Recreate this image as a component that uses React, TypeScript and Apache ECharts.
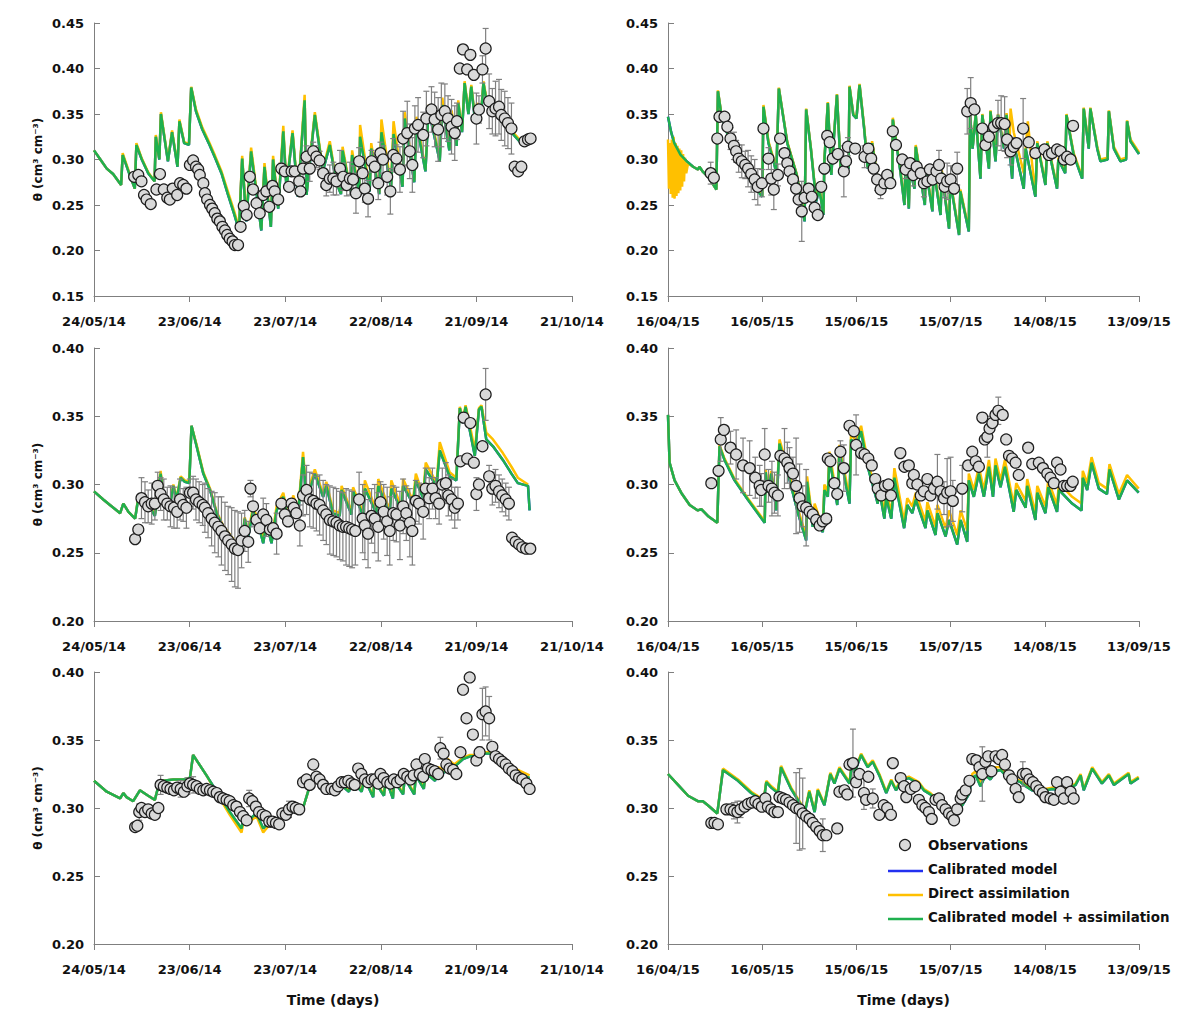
import React, { useEffect, useRef } from "react";
import * as echarts from "echarts";

const FONT = "'DejaVu Sans', 'Liberation Sans', sans-serif";

const labels2014 = ["24/05/14", "23/06/14", "23/07/14", "22/08/14", "21/09/14", "21/10/14"];
const labels2015 = ["16/04/15", "16/05/15", "15/06/15", "15/07/15", "14/08/15", "13/09/15"];
const yTitle = "θ (cm³ cm⁻³)";
const xTitle = "Time (days)";
const legendNames = ["Observations", "Calibrated model", "Direct assimilation", "Calibrated model + assimilation"];

// ---------- Panel 1 (2014, top) ----------
const p1Combined = [[0,0.310],[2,0.300],[4,0.290],[6,0.284],[8.5,0.272],[9,0.305],[11,0.285],[12.8,0.268],[13.3,0.316],[15,0.300],[17,0.285],[19,0.276],[19.4,0.325],[20.5,0.300],[21,0.350],[23.2,0.298],[24.5,0.330],[26.2,0.292],[26.8,0.342],[28.3,0.318],[29.8,0.316],[30.5,0.379],[32,0.353],[34,0.333],[36,0.318],[38,0.302],[40,0.285],[42,0.262],[44,0.240],[45.5,0.222],[46.5,0.301],[47.8,0.232],[49.3,0.309],[52.5,0.222],[53.5,0.292],[55.5,0.226],[56.2,0.300],[57.8,0.246],[59.4,0.331],[60.4,0.268],[62.3,0.329],[64,0.259],[66.1,0.365],[66.7,0.261],[69.3,0.349],[71.8,0.287],[74,0.316],[76,0.275],[77.5,0.262],[78,0.310],[80.5,0.265],[81,0.305],[83.2,0.262],[83.5,0.325],[86.5,0.265],[87,0.312],[89.5,0.262],[90.2,0.330],[93.2,0.268],[94,0.328],[96.8,0.270],[97.5,0.345],[100.5,0.275],[101.2,0.340],[104,0.287],[105,0.355],[108.5,0.298],[109.3,0.360],[111.5,0.310],[112.2,0.350],[113.8,0.315],[114.3,0.362],[115.5,0.330],[116.3,0.384],[117.5,0.350],[118.4,0.380],[119.5,0.345],[120.2,0.360],[121.5,0.350],[122.2,0.384],[123.3,0.362],[126,0.349],[129,0.338],[132,0.326],[134.8,0.315]];
const p1Direct = [[0,0.310],[2,0.300],[4,0.290],[6,0.284],[8.5,0.272],[9,0.307],[11,0.286],[12.8,0.268],[13.3,0.318],[15,0.301],[17,0.286],[19,0.276],[19.4,0.327],[20.5,0.301],[21,0.352],[23.2,0.299],[24.5,0.332],[26.2,0.293],[26.8,0.344],[28.3,0.319],[29.8,0.317],[30.5,0.380],[32,0.355],[34,0.335],[36,0.320],[38,0.304],[40,0.287],[42,0.265],[44,0.243],[45.5,0.225],[46.5,0.304],[47.8,0.235],[49.3,0.313],[52.5,0.224],[53.5,0.296],[55.5,0.228],[56.2,0.304],[57.8,0.248],[59.4,0.337],[60.4,0.270],[62.3,0.332],[64,0.261],[66.1,0.371],[66.7,0.263],[69.3,0.352],[71.8,0.289],[74,0.320],[76,0.276],[77.5,0.263],[78,0.314],[80.5,0.266],[81,0.310],[83.2,0.263],[83.5,0.338],[86.5,0.266],[87,0.318],[89.5,0.263],[90.2,0.344],[93.2,0.270],[94,0.342],[96.8,0.272],[97.5,0.352],[100.5,0.277],[101.2,0.347],[104,0.289],[105,0.360],[108.5,0.300],[109.3,0.368],[111.5,0.312],[112.2,0.354],[113.8,0.317],[114.3,0.365],[115.5,0.332],[116.3,0.386],[117.5,0.352],[118.4,0.382],[119.5,0.347],[120.2,0.362],[121.5,0.352],[122.2,0.386],[123.3,0.364],[126,0.351],[129,0.340],[132,0.328],[134.8,0.317]];
const p1Calibrated = p1Combined;
// [day, value, error half-width]
const p1Obs = [[12.6,0.281,0],[13.9,0.283,0],[14.9,0.276,0],[15.7,0.261,0],[16.5,0.256,0],[17.8,0.251,0],[19.6,0.267,0],[20.7,0.284,0],[21.9,0.267,0],[23.0,0.258,0],[23.8,0.256,0],[24.7,0.268,0],[26.1,0.261,0],[27.0,0.274,0],[28.0,0.272,0],[29.0,0.268,0],[30.1,0.294,0],[31.1,0.299,0],[32.0,0.292,0],[32.7,0.289,0],[33.2,0.283,0],[34.3,0.274,0],[34.8,0.263,0],[35.5,0.256,0],[36.4,0.250,0],[37.1,0.246,0],[37.9,0.241,0],[38.7,0.235,0],[39.5,0.232,0],[40.3,0.226,0],[41.1,0.222,0],[41.8,0.217,0],[42.6,0.213,0],[43.5,0.210,0],[44.2,0.206,0],[45.2,0.206,0],[46.0,0.226,0],[47.0,0.249,0],[47.9,0.239,0],[48.9,0.281,0.006],[49.9,0.267,0],[51.0,0.252,0],[52.0,0.241,0],[53.1,0.261,0],[54.1,0.265,0.006],[55.0,0.248,0],[56.0,0.271,0],[56.7,0.265,0],[57.8,0.256,0],[58.8,0.290,0.006],[59.9,0.287,0],[61.2,0.270,0],[62.0,0.287,0],[63.0,0.287,0],[64.4,0.276,0],[64.8,0.265,0],[65.6,0.290,0.010],[66.7,0.303,0.012],[67.7,0.290,0.014],[68.8,0.309,0.010],[69.8,0.303,0.012],[70.8,0.299,0.010],[71.9,0.285,0.015],[72.9,0.272,0.012],[74.0,0.279,0.015],[75.1,0.279,0.018],[76.1,0.276,0.015],[77.2,0.290,0.020],[78.2,0.281,0.015],[79.3,0.272,0.012],[80.3,0.279,0.018],[81.3,0.278,0.015],[82.2,0.263,0.022],[83.2,0.298,0.015],[84.3,0.285,0.018],[85.0,0.268,0.015],[86.0,0.257,0.020],[87.1,0.298,0.012],[88.1,0.292,0.015],[89.2,0.274,0.018],[89.9,0.307,0.012],[90.7,0.300,0.015],[92.0,0.281,0.020],[93.0,0.265,0.025],[93.9,0.305,0.018],[94.9,0.301,0.015],[96.0,0.289,0.025],[97.0,0.323,0.030],[98.3,0.329,0.035],[99.1,0.309,0.030],[99.9,0.294,0.030],[100.7,0.334,0.025],[101.7,0.338,0.030],[103.3,0.327,0.025],[104.3,0.345,0.030],[105.9,0.355,0.025],[106.9,0.344,0.030],[108.0,0.333,0.035],[109.0,0.349,0.035],[110.1,0.353,0.030],[111.1,0.345,0.025],[112.2,0.336,0.030],[113.2,0.329,0.030],[113.9,0.342,0.020],[114.8,0.400,0],[115.8,0.421,0],[117.1,0.399,0],[118.1,0.415,0],[119.2,0.393,0],[120.0,0.345,0.028],[120.8,0.355,0.015],[121.9,0.399,0.015],[122.9,0.422,0.022],[124.0,0.364,0.030],[125.0,0.353,0.025],[126.0,0.356,0.030],[127.1,0.358,0.030],[127.8,0.349,0.028],[128.9,0.345,0.030],[129.9,0.340,0.028],[131.0,0.334,0.028],[132.0,0.292,0],[133.1,0.287,0],[134.1,0.292,0],[135.1,0.320,0],[136.2,0.322,0],[137.0,0.323,0]];

// ---------- Panel 2 (2015, top) ----------
const p2Combined = [[0,0.347],[1,0.330],[2,0.318],[4,0.305],[6,0.298],[8,0.292],[9.5,0.289],[10,0.292],[11,0.287],[13,0.280],[15.4,0.267],[15.9,0.375],[17,0.349],[20,0.316],[24,0.290],[27,0.272],[30,0.259],[30.4,0.358],[32,0.318],[33.5,0.300],[34.5,0.285],[35.3,0.378],[38,0.318],[41,0.283],[43.5,0.232],[44,0.355],[45.5,0.312],[47.2,0.254],[48.2,0.268],[49.5,0.239],[49.8,0.298],[50.9,0.362],[52,0.283],[53.8,0.371],[55,0.290],[57.5,0.290],[57.8,0.380],[59,0.349],[60,0.345],[61,0.382],[62.5,0.333],[63.6,0.290],[65,0.318],[66.8,0.276],[68.5,0.268],[71.4,0.270],[71.6,0.344],[74,0.287],[75.3,0.250],[75.7,0.300],[76.7,0.246],[77.0,0.290],[78.5,0.268],[78.9,0.314],[81.8,0.250],[82.1,0.290],[84.2,0.243],[84.6,0.290],[86.8,0.239],[87.2,0.286],[89.5,0.224],[89.9,0.276],[92.7,0.217],[93.1,0.265],[95.8,0.221],[96.2,0.349],[97,0.312],[98,0.349],[99.5,0.279],[100.1,0.349],[102.2,0.290],[102.7,0.353],[104.3,0.298],[105.1,0.349],[107,0.312],[107.8,0.349],[109.6,0.279],[110.1,0.318],[113.3,0.268],[113.9,0.312],[117,0.259],[117.6,0.318],[120.2,0.272],[120.8,0.318],[123.9,0.268],[124.3,0.300],[126.5,0.285],[126.9,0.349],[129.2,0.305],[131.9,0.279],[132.4,0.356],[134,0.312],[134.5,0.356],[136.7,0.312],[137.7,0.298],[140,0.300],[140.4,0.353],[142,0.312],[144.1,0.298],[145.9,0.300],[146.2,0.342],[147.3,0.320],[149.4,0.309],[150,0.306]];
const p2Direct = [[0,0.322],[0.3,0.268],[0.6,0.318],[0.9,0.262],[1.2,0.322],[1.5,0.258],[1.8,0.325],[2.1,0.257],[2.4,0.318],[2.7,0.260],[3.0,0.315],[3.3,0.263],[3.6,0.312],[3.9,0.266],[4.2,0.310],[4.5,0.270],[4.8,0.306],[5.1,0.276],[5.4,0.302],[5.8,0.285],[6.4,0.296],[8,0.292],[9.5,0.289],[10,0.292],[11,0.287],[13,0.280],[15.4,0.267],[15.9,0.376],[17,0.350],[20,0.317],[24,0.291],[27,0.273],[30,0.260],[30.4,0.360],[32,0.320],[33.5,0.302],[34.5,0.287],[35.3,0.379],[38,0.319],[41,0.284],[43.5,0.236],[44,0.356],[45.5,0.313],[47.2,0.256],[48.2,0.270],[49.5,0.241],[49.8,0.300],[50.9,0.363],[52,0.285],[53.8,0.372],[55,0.292],[57.5,0.292],[57.8,0.381],[59,0.350],[60,0.346],[61,0.383],[62.5,0.335],[63.6,0.292],[65,0.320],[66.8,0.278],[68.5,0.270],[71.4,0.272],[71.6,0.346],[74,0.289],[75.3,0.252],[75.7,0.301],[76.7,0.248],[77.0,0.292],[78.5,0.270],[78.9,0.316],[81.8,0.252],[82.1,0.292],[84.2,0.245],[84.6,0.292],[86.8,0.241],[87.2,0.288],[89.5,0.226],[89.9,0.278],[92.7,0.219],[93.1,0.267],[95.8,0.223],[96.2,0.350],[97,0.313],[98,0.350],[99.5,0.281],[100.1,0.350],[102.2,0.292],[102.7,0.354],[104.3,0.300],[105.1,0.350],[107,0.314],[107.8,0.351],[108.8,0.320],[109.1,0.356],[110.1,0.330],[113.3,0.285],[114.6,0.342],[115.5,0.310],[117,0.262],[117.6,0.320],[120.2,0.274],[120.8,0.320],[123.9,0.270],[124.3,0.302],[126.5,0.287],[126.9,0.350],[129.2,0.307],[131.9,0.281],[132.4,0.357],[134,0.314],[134.5,0.357],[136.7,0.314],[137.7,0.300],[140,0.302],[140.4,0.354],[142,0.314],[144.1,0.300],[145.9,0.302],[146.2,0.343],[147.3,0.322],[149.4,0.311],[150,0.308]];
const p2Calibrated = p2Combined;
const p2Obs = [[13.6,0.285,0.012],[14.6,0.280,0],[15.7,0.323,0],[16.4,0.347,0],[18.0,0.347,0],[18.9,0.336,0],[19.9,0.323,0.012],[21.0,0.315,0.015],[21.7,0.309,0.012],[22.5,0.301,0.015],[23.5,0.298,0.018],[24.6,0.294,0.015],[25.5,0.290,0.020],[26.5,0.284,0.020],[27.6,0.278,0.022],[28.6,0.270,0.020],[29.9,0.274,0.015],[30.4,0.334,0],[32.0,0.301,0.012],[32.9,0.279,0.018],[33.7,0.267,0.022],[35.0,0.283,0.012],[35.7,0.323,0],[37.1,0.307,0],[38.0,0.296,0.010],[38.7,0.287,0],[39.8,0.278,0],[40.8,0.268,0],[41.6,0.256,0],[42.6,0.243,0.033],[43.5,0.258,0],[44.8,0.268,0],[45.8,0.259,0],[46.7,0.247,0],[47.7,0.239,0],[48.8,0.270,0],[49.8,0.290,0],[50.7,0.326,0],[51.5,0.319,0],[52.5,0.301,0],[54.1,0.306,0],[56.0,0.287,0.028],[56.7,0.298,0],[57.3,0.314,0.010],[59.6,0.312,0],[62.6,0.303,0.012],[63.8,0.312,0],[64.7,0.301,0.010],[65.5,0.290,0],[66.6,0.278,0.012],[67.7,0.267,0.010],[68.9,0.274,0],[69.8,0.283,0],[70.8,0.274,0],[71.6,0.331,0],[72.6,0.316,0],[74.6,0.300,0],[75.7,0.289,0.010],[77.1,0.296,0],[78.1,0.283,0.012],[79.2,0.292,0],[80.5,0.285,0],[81.5,0.274,0.015],[82.6,0.276,0],[83.4,0.289,0],[84.3,0.278,0],[85.5,0.287,0],[86.3,0.294,0.016],[87.0,0.279,0],[88.1,0.270,0.012],[88.9,0.276,0.020],[90.0,0.278,0.015],[91.1,0.268,0],[92.1,0.290,0.018],[95.3,0.353,0.025],[96.4,0.362,0.028],[97.6,0.355,0],[100.1,0.334,0],[101.1,0.316,0],[102.2,0.325,0],[103.8,0.336,0],[105.1,0.340,0.025],[106.1,0.340,0.030],[107.2,0.339,0.030],[108.0,0.322,0.020],[109.1,0.309,0.015],[110.1,0.314,0.010],[111.0,0.318,0],[113.1,0.334,0.033],[114.9,0.319,0],[117.0,0.307,0],[119.9,0.311,0],[121.3,0.305,0],[122.3,0.307,0],[123.9,0.311,0],[125.0,0.309,0],[126.1,0.300,0],[127.1,0.303,0],[128.2,0.300,0],[129.0,0.337,0]];

// ---------- Panel 3 (2014, middle) ----------
const p3Combined = [[0,0.295],[2.9,0.289],[5,0.285],[8.2,0.279],[9.2,0.286],[10.8,0.280],[12.9,0.275],[13.9,0.290],[15.5,0.284],[17,0.286],[19.1,0.277],[20.9,0.308],[21.9,0.289],[23.8,0.284],[24.9,0.299],[25.9,0.289],[27.2,0.305],[28.5,0.302],[29.9,0.301],[30.6,0.343],[32.2,0.328],[34.3,0.308],[36.4,0.296],[38.5,0.279],[40.5,0.269],[43.7,0.259],[46.3,0.253],[47.3,0.275],[48.4,0.262],[49.9,0.281],[52,0.267],[53.1,0.257],[54.1,0.272],[55.7,0.257],[57.3,0.281],[59.4,0.291],[61.4,0.269],[62.5,0.289],[64.1,0.279],[65.6,0.320],[66.7,0.289],[69.3,0.308],[71.9,0.291],[72.9,0.299],[75,0.279],[77.1,0.277],[77.7,0.296],[80.8,0.278],[81.3,0.295],[84.5,0.277],[85,0.297],[88.6,0.279],[89.2,0.299],[92.8,0.279],[93.3,0.297],[96.5,0.281],[97,0.299],[100.1,0.286],[101,0.303],[103.3,0.290],[104.1,0.311],[107.5,0.299],[108.5,0.325],[111.6,0.306],[113.7,0.303],[114.8,0.356],[115.8,0.345],[116.6,0.357],[117.9,0.340],[119.5,0.321],[120.8,0.355],[121.6,0.357],[123.1,0.333],[125.2,0.328],[128.3,0.318],[131,0.308],[133,0.301],[136.2,0.299],[136.7,0.281]];
const p3Direct = [[0,0.295],[2.9,0.289],[5,0.285],[8.2,0.279],[9.2,0.286],[10.8,0.280],[12.9,0.275],[13.9,0.291],[15.5,0.285],[17,0.287],[19.1,0.278],[20.9,0.310],[21.9,0.290],[23.8,0.285],[24.9,0.300],[25.9,0.290],[27.2,0.306],[28.5,0.303],[29.9,0.302],[30.6,0.343],[32.2,0.329],[34.3,0.309],[36.4,0.297],[38.5,0.280],[40.5,0.270],[43.7,0.260],[46.3,0.254],[47.3,0.276],[48.4,0.264],[49.9,0.284],[52,0.270],[53.1,0.260],[54.1,0.275],[55.7,0.259],[57.3,0.284],[59.4,0.294],[61.4,0.271],[62.5,0.292],[64.1,0.281],[65.6,0.324],[66.7,0.292],[69.3,0.311],[71.9,0.293],[72.9,0.302],[75,0.281],[77.1,0.279],[77.7,0.299],[80.8,0.280],[81.3,0.298],[84.5,0.279],[85,0.303],[88.6,0.281],[89.2,0.304],[92.8,0.281],[93.3,0.303],[96.5,0.283],[97,0.304],[100.1,0.288],[101,0.308],[103.3,0.292],[104.1,0.316],[107.5,0.301],[108.5,0.331],[111.6,0.309],[113.7,0.305],[114.8,0.357],[115.8,0.348],[116.6,0.358],[117.9,0.344],[119.5,0.325],[120.8,0.356],[121.6,0.358],[123.1,0.338],[125.2,0.333],[128.3,0.323],[131,0.313],[133,0.305],[136.2,0.300]];
const p3Calibrated = p3Combined;
const p3Obs = [[12.9,0.260,0],[13.9,0.267,0],[14.9,0.290,0.015],[16.0,0.287,0.015],[17.0,0.284,0.012],[18.1,0.286,0.015],[19.1,0.286,0.012],[20.0,0.299,0.010],[20.9,0.293,0.012],[21.9,0.289,0.015],[23.0,0.286,0.012],[24.0,0.284,0.015],[25.1,0.283,0.015],[26.1,0.280,0.012],[27.0,0.289,0.015],[28.0,0.285,0.012],[29.0,0.283,0.015],[30.1,0.294,0.010],[31.1,0.294,0.012],[32.0,0.289,0.015],[33.0,0.287,0.015],[34.1,0.285,0.015],[34.8,0.283,0.018],[35.8,0.279,0.018],[36.9,0.275,0.020],[37.9,0.272,0.022],[39.0,0.269,0.022],[40.0,0.266,0.025],[41.1,0.262,0.025],[42.1,0.259,0.025],[43.2,0.256,0.027],[44.2,0.253,0.028],[45.2,0.252,0.028],[46.3,0.259,0.020],[47.3,0.266,0.015],[48.4,0.258,0.015],[49.1,0.297,0.006],[49.9,0.284,0.015],[51.0,0.274,0],[52.0,0.268,0],[53.1,0.278,0.012],[54.1,0.274,0.012],[55.2,0.267,0],[56.2,0.268,0],[57.3,0.264,0.015],[58.8,0.286,0],[59.9,0.278,0],[60.9,0.273,0],[62.0,0.286,0],[62.7,0.283,0],[63.5,0.279,0],[64.6,0.270,0.015],[65.6,0.292,0.015],[66.7,0.296,0.018],[67.7,0.289,0.020],[68.8,0.288,0.020],[69.8,0.286,0.020],[70.8,0.285,0.022],[71.9,0.281,0.022],[72.9,0.278,0.022],[74.0,0.274,0.025],[75.1,0.273,0.025],[76.1,0.272,0.025],[77.1,0.270,0.025],[78.1,0.269,0.025],[79.1,0.269,0.028],[80.1,0.268,0.028],[81.0,0.267,0.028],[82.0,0.266,0.025],[83.2,0.289,0.020],[84.3,0.275,0.025],[85.0,0.270,0.025],[86.0,0.264,0.025],[87.1,0.277,0.020],[88.1,0.275,0.025],[89.2,0.269,0.025],[89.9,0.287,0.015],[90.9,0.280,0.020],[92.0,0.273,0.025],[92.8,0.266,0.025],[93.9,0.279,0.020],[94.9,0.278,0.020],[96.0,0.270,0.025],[97.0,0.284,0.020],[98.0,0.279,0.020],[99.1,0.272,0.025],[99.9,0.266,0.025],[101.0,0.288,0.015],[102.0,0.286,0.015],[103.3,0.280,0.020],[104.1,0.297,0.015],[105.2,0.290,0.015],[106.2,0.297,0.015],[107.2,0.290,0.015],[108.3,0.286,0.015],[109.3,0.300,0.012],[110.4,0.301,0.015],[111.2,0.292,0.015],[112.2,0.289,0.015],[113.2,0.283,0.015],[114.2,0.286,0.012],[115.0,0.317,0],[116.0,0.349,0],[117.1,0.319,0],[118.1,0.345,0],[119.2,0.316,0],[120.0,0.293,0.012],[120.8,0.300,0],[121.9,0.328,0],[122.9,0.366,0.019],[124.0,0.306,0.008],[125.0,0.297,0.012],[126.0,0.299,0.012],[127.1,0.295,0.012],[128.1,0.292,0.012],[129.2,0.289,0.012],[130.2,0.286,0.012],[131.2,0.261,0],[132.3,0.258,0],[133.4,0.256,0],[134.4,0.254,0],[135.6,0.253,0],[136.9,0.253,0]];

// ---------- Panel 4 (2015, middle) ----------
const p4Combined = [[0,0.351],[0.5,0.316],[2.1,0.303],[4.2,0.294],[6.9,0.285],[9.5,0.281],[10.6,0.282],[12.7,0.277],[15.7,0.272],[16.4,0.328],[18,0.318],[21.2,0.303],[25.4,0.289],[30.8,0.272],[31.1,0.309],[31.8,0.294],[32.9,0.308],[34.5,0.281],[35.5,0.330],[38.2,0.308],[41.4,0.279],[44,0.259],[44.3,0.302],[46.1,0.269],[46.7,0.282],[49.3,0.265],[49.8,0.296],[50.9,0.291],[51.4,0.320],[53.9,0.285],[54.6,0.325],[57.8,0.286],[58.3,0.333],[59.9,0.328],[61.5,0.339],[63.6,0.313],[66.8,0.286],[67,0.300],[68.9,0.275],[69.5,0.291],[71.1,0.275],[72.1,0.305],[75.2,0.268],[76.2,0.285],[77.8,0.279],[78.9,0.289],[82,0.268],[82.6,0.281],[85.2,0.263],[85.8,0.279],[88.4,0.262],[89.5,0.274],[92.1,0.256],[93.2,0.274],[95.3,0.258],[95.8,0.303],[97.4,0.291],[99,0.308],[100.6,0.291],[102.2,0.313],[103.5,0.291],[104.3,0.314],[105.9,0.298],[107.3,0.313],[110.1,0.280],[110.9,0.296],[113.9,0.283],[114.4,0.299],[117,0.274],[117.6,0.294],[120.2,0.279],[121.1,0.298],[123.9,0.280],[124.5,0.296],[128.7,0.286],[131.7,0.281],[132.1,0.305],[133.5,0.296],[134.9,0.316],[137.2,0.297],[139.8,0.293],[140.6,0.311],[143.6,0.289],[146.2,0.303],[149.9,0.294]];
const p4Direct = [[0,0.351],[0.5,0.316],[2.1,0.303],[4.2,0.294],[6.9,0.285],[9.5,0.281],[10.6,0.282],[12.7,0.277],[15.7,0.272],[16.4,0.329],[18,0.319],[21.2,0.304],[25.4,0.290],[30.8,0.273],[31.1,0.311],[31.8,0.296],[32.9,0.310],[34.5,0.283],[35.5,0.333],[38.2,0.311],[41.4,0.282],[44,0.262],[44.3,0.306],[46.1,0.272],[46.7,0.286],[49.3,0.268],[49.8,0.300],[50.9,0.295],[51.4,0.324],[53.9,0.289],[54.6,0.329],[57.8,0.290],[58.3,0.337],[59.9,0.332],[61.5,0.343],[63.6,0.317],[66.8,0.290],[67,0.304],[68.9,0.279],[69.5,0.295],[71.1,0.279],[72.1,0.312],[75.2,0.273],[76.2,0.290],[77.8,0.284],[78.9,0.294],[82,0.273],[82.6,0.287],[85.2,0.269],[85.8,0.285],[88.4,0.268],[89.5,0.281],[92.1,0.263],[93.2,0.281],[95.3,0.266],[95.8,0.308],[97.4,0.296],[99,0.313],[100.6,0.296],[102.2,0.318],[103.5,0.296],[104.3,0.319],[105.9,0.303],[107.3,0.318],[110.1,0.285],[110.9,0.301],[113.9,0.288],[114.4,0.304],[117,0.279],[117.6,0.299],[120.2,0.284],[121.1,0.303],[123.9,0.285],[124.5,0.301],[128.7,0.291],[131.7,0.286],[132.1,0.310],[133.5,0.301],[134.9,0.320],[137.2,0.301],[139.8,0.297],[140.6,0.315],[143.6,0.293],[146.2,0.307],[149.9,0.297]];
const p4Calibrated = p4Combined;
const p4Obs = [[13.8,0.301,0],[16.1,0.310,0],[16.8,0.333,0.016],[17.8,0.340,0],[19.9,0.327,0.012],[21.7,0.322,0.018],[23.9,0.314,0.020],[26.0,0.312,0.020],[27.8,0.305,0.015],[29.2,0.299,0.015],[29.7,0.296,0.012],[30.8,0.322,0.019],[32.0,0.299,0.012],[33.1,0.297,0.020],[33.9,0.294,0.015],[35.0,0.292,0.015],[35.8,0.321,0],[37.1,0.319,0.022],[38.0,0.316,0.015],[38.7,0.312,0.015],[39.8,0.308,0.012],[40.8,0.299,0.035],[41.9,0.290,0.025],[42.9,0.284,0.015],[44.0,0.283,0.028],[45.1,0.280,0],[46.1,0.278,0],[47.2,0.274,0],[48.3,0.270,0],[49.3,0.273,0],[50.4,0.275,0],[50.9,0.319,0],[51.7,0.317,0],[53.0,0.301,0],[53.9,0.293,0],[54.9,0.324,0.008],[56.0,0.312,0.017],[57.8,0.343,0],[59.2,0.339,0],[59.9,0.329,0.022],[61.5,0.323,0],[62.6,0.322,0],[63.8,0.319,0],[64.9,0.314,0],[66.0,0.304,0],[66.8,0.297,0],[67.9,0.292,0],[69.1,0.299,0],[70.2,0.300,0],[71.0,0.292,0],[74.0,0.323,0],[75.3,0.313,0],[76.7,0.314,0],[77.8,0.301,0],[78.3,0.307,0],[79.4,0.300,0],[80.5,0.292,0],[81.5,0.295,0],[82.6,0.304,0],[83.6,0.292,0],[84.7,0.297,0],[85.8,0.302,0.020],[86.8,0.295,0],[87.9,0.290,0.012],[88.9,0.294,0.025],[90.0,0.295,0.025],[90.7,0.288,0.015],[93.7,0.297,0.017],[95.6,0.314,0],[96.9,0.324,0],[98.0,0.317,0],[99.0,0.313,0],[100.1,0.349,0],[100.9,0.333,0],[101.7,0.335,0.015],[102.4,0.341,0],[103.3,0.345,0],[104.3,0.351,0],[105.2,0.354,0.010],[106.6,0.351,0],[107.7,0.333,0],[108.6,0.321,0],[109.6,0.319,0],[110.7,0.316,0],[111.7,0.307,0],[114.7,0.327,0],[116.0,0.315,0],[118.1,0.316,0],[119.4,0.312,0],[120.8,0.308,0],[121.8,0.305,0],[122.9,0.301,0],[123.9,0.316,0],[125.0,0.311,0],[126.1,0.299,0],[127.1,0.299,0],[128.2,0.299,0],[128.9,0.302,0]];

// ---------- Panel 5 (2014, bottom) ----------
const p5Combined = [[0,0.320],[4,0.312],[8.2,0.307],[9.2,0.311],[10.2,0.308],[12.3,0.305],[14.4,0.313],[17,0.309],[19.1,0.306],[20.2,0.316],[21.7,0.320],[24.9,0.321],[28,0.321],[30.1,0.322],[31.1,0.339],[35.3,0.324],[38.5,0.312],[42.6,0.297],[46.3,0.285],[47.3,0.297],[48.9,0.292],[51,0.296],[53.1,0.285],[55.2,0.290],[57.3,0.288],[58.8,0.297],[60.4,0.297],[62.5,0.304],[65.6,0.300],[67.7,0.316],[68.8,0.320],[70.8,0.320],[74,0.312],[76,0.310],[77,0.318],[80,0.312],[81,0.320],[84,0.312],[84.8,0.322],[87.6,0.308],[88,0.320],[91,0.309],[91.5,0.322],[93.8,0.307],[94.2,0.320],[97,0.310],[97.5,0.322],[100.5,0.310],[101,0.324],[103.5,0.314],[104,0.326],[107,0.320],[108,0.328],[110,0.326],[111,0.334],[113,0.330],[115.8,0.336],[118,0.338],[120,0.338],[122,0.340],[124.2,0.340],[127,0.335],[130,0.330],[133,0.326],[136.7,0.322]];
const p5Direct = [[0,0.320],[4,0.312],[8.2,0.307],[9.2,0.311],[10.2,0.308],[12.3,0.305],[14.4,0.313],[17,0.309],[19.1,0.306],[20.2,0.316],[21.7,0.320],[24.9,0.321],[28,0.321],[30.1,0.322],[31.1,0.339],[35.3,0.324],[38.5,0.311],[42.6,0.295],[46.3,0.282],[47.3,0.295],[48.9,0.290],[51,0.294],[53.1,0.282],[55.2,0.288],[57.3,0.286],[58.8,0.296],[60.4,0.296],[62.5,0.304],[65.6,0.300],[67.7,0.316],[68.8,0.321],[70.8,0.321],[74,0.313],[76,0.311],[77,0.319],[80,0.313],[81,0.321],[84,0.313],[84.8,0.323],[87.6,0.309],[88,0.321],[91,0.310],[91.5,0.323],[93.8,0.308],[94.2,0.321],[97,0.311],[97.5,0.323],[100.5,0.311],[101,0.325],[103.5,0.315],[104,0.327],[107,0.321],[108,0.330],[110,0.328],[111,0.336],[113,0.332],[115.8,0.337],[118,0.339],[120,0.339],[122,0.341],[124.2,0.341],[127,0.337],[130,0.332],[133,0.328],[136.7,0.324]];
const p5Calibrated = p5Combined;
const p5Obs = [[12.9,0.286,0],[13.6,0.287,0],[14.2,0.297,0.006],[14.9,0.300,0],[16.0,0.297,0],[17.0,0.299,0],[18.1,0.296,0],[19.1,0.295,0],[20.2,0.300,0],[20.9,0.317,0.007],[21.9,0.316,0],[23.0,0.315,0],[24.0,0.314,0],[25.1,0.313,0],[26.1,0.315,0],[27.2,0.314,0.006],[28.2,0.312,0],[29.3,0.316,0.006],[30.1,0.318,0],[31.1,0.317,0.006],[32.2,0.316,0],[33.2,0.314,0],[34.3,0.313,0],[35.3,0.314,0],[36.4,0.313,0],[37.4,0.312,0],[38.5,0.311,0],[39.5,0.308,0],[40.5,0.307,0],[41.6,0.306,0],[42.6,0.305,0],[43.7,0.302,0],[44.7,0.301,0],[45.8,0.297,0],[46.8,0.294,0],[47.9,0.291,0],[48.7,0.307,0.006],[49.7,0.305,0],[50.8,0.301,0],[51.8,0.297,0],[52.9,0.295,0],[53.9,0.294,0],[55.0,0.290,0],[56.0,0.290,0],[57.1,0.289,0],[58.1,0.288,0],[59.1,0.296,0],[60.2,0.295,0],[61.2,0.299,0.006],[62.3,0.301,0],[63.3,0.300,0],[64.4,0.299,0],[65.6,0.319,0],[66.7,0.321,0],[67.7,0.317,0],[68.8,0.332,0],[69.8,0.323,0],[70.8,0.321,0],[71.9,0.317,0],[72.9,0.314,0],[74.5,0.314,0],[75.6,0.313,0],[76.6,0.316,0],[77.7,0.319,0],[78.7,0.319,0],[79.8,0.320,0],[80.8,0.318,0],[81.8,0.317,0],[82.9,0.329,0],[83.9,0.325,0],[85.0,0.321,0],[86.0,0.319,0],[87.1,0.321,0],[88.1,0.321,0],[89.2,0.318,0],[89.9,0.325,0],[90.9,0.322,0],[92.0,0.319,0],[93.0,0.318,0],[94.1,0.321,0],[95.1,0.319,0],[96.2,0.321,0],[97.2,0.325,0],[98.3,0.323,0],[99.3,0.321,0],[100.3,0.324,0],[101.2,0.332,0],[102.2,0.325,0],[103.3,0.323,0],[103.8,0.336,0],[104.8,0.329,0],[105.9,0.328,0],[106.9,0.327,0],[108.0,0.325,0],[108.7,0.344,0.008],[109.7,0.340,0],[110.6,0.332,0],[111.6,0.329,0],[112.7,0.328,0],[113.7,0.325,0],[115.0,0.341,0],[115.8,0.387,0],[116.9,0.366,0],[117.9,0.396,0],[118.9,0.354,0],[120.0,0.335,0],[121.0,0.341,0.004],[121.9,0.369,0.019],[122.9,0.371,0.018],[124.0,0.366,0.016],[125.0,0.345,0],[126.0,0.338,0],[127.1,0.336,0],[128.1,0.334,0],[129.2,0.332,0],[130.2,0.329,0],[131.3,0.327,0],[132.3,0.324,0],[133.4,0.322,0],[134.4,0.321,0],[135.7,0.318,0],[136.7,0.314,0]];

// ---------- Panel 6 (2015, bottom) ----------
const p6Combined = [[0,0.325],[3.2,0.317],[6.4,0.309],[9.5,0.305],[11.1,0.305],[12.7,0.302],[15.7,0.296],[17.5,0.328],[22.3,0.320],[26.5,0.311],[30.5,0.305],[31.3,0.319],[32.9,0.315],[35,0.311],[36,0.330],[39.2,0.314],[42.4,0.302],[43.5,0.296],[45,0.312],[46.7,0.297],[47.7,0.313],[49.8,0.302],[51.7,0.325],[53,0.318],[54.6,0.329],[57.8,0.318],[58.5,0.331],[59.4,0.326],[61.5,0.339],[63.6,0.330],[65.2,0.334],[67.3,0.324],[69.5,0.311],[71.1,0.320],[72.6,0.313],[74.2,0.320],[76.7,0.322],[79.9,0.318],[81.5,0.313],[83.6,0.310],[85.8,0.305],[88.4,0.301],[90.5,0.297],[92.1,0.297],[93.7,0.302],[95.8,0.310],[96.9,0.322],[98,0.324],[99.5,0.316],[101.1,0.324],[102.7,0.321],[104.3,0.327],[105.9,0.328],[107.5,0.324],[110.1,0.321],[112.3,0.319],[113.9,0.316],[116,0.313],[118.1,0.312],[122.3,0.314],[126.6,0.313],[129.8,0.317],[131.4,0.324],[132.4,0.313],[135.1,0.329],[138.2,0.318],[140.4,0.324],[142,0.317],[146.7,0.325],[147.3,0.318],[149.9,0.322]];
const p6Direct = [[0,0.325],[3.2,0.317],[6.4,0.309],[9.5,0.305],[11.1,0.305],[12.7,0.302],[15.7,0.296],[17.5,0.329],[22.3,0.321],[26.5,0.312],[30.5,0.306],[31.3,0.320],[32.9,0.316],[35,0.312],[36,0.331],[39.2,0.315],[42.4,0.303],[43.5,0.297],[45,0.313],[46.7,0.298],[47.7,0.314],[49.8,0.303],[51.7,0.326],[53,0.319],[54.6,0.330],[57.8,0.319],[58.5,0.332],[59.4,0.327],[61.5,0.340],[63.6,0.331],[65.2,0.335],[67.3,0.325],[69.5,0.312],[71.1,0.321],[72.6,0.314],[74.2,0.321],[76.7,0.323],[79.9,0.319],[81.5,0.314],[83.6,0.311],[85.8,0.306],[88.4,0.302],[90.5,0.298],[92.1,0.298],[93.7,0.303],[95.8,0.312],[96.9,0.325],[98,0.327],[99.5,0.319],[101.1,0.327],[102.7,0.324],[104.3,0.330],[105.9,0.330],[107.5,0.326],[110.1,0.322],[112.3,0.320],[113.9,0.317],[116,0.314],[118.1,0.313],[122.3,0.315],[126.6,0.314],[129.8,0.318],[131.4,0.325],[132.4,0.314],[135.1,0.330],[138.2,0.319],[140.4,0.325],[142,0.318],[146.7,0.326],[147.3,0.319],[149.9,0.323]];
const p6Calibrated = p6Combined;
const p6Obs = [[13.8,0.289,0],[14.8,0.289,0],[15.9,0.288,0],[18.6,0.299,0],[19.9,0.299,0],[21.0,0.298,0.006],[22.1,0.297,0.008],[23.1,0.299,0.006],[24.4,0.301,0],[25.5,0.303,0],[26.7,0.304,0],[27.8,0.305,0],[28.8,0.303,0],[29.9,0.301,0],[31.0,0.307,0],[31.8,0.301,0],[32.9,0.299,0],[33.9,0.297,0],[35.0,0.297,0],[35.5,0.308,0],[36.6,0.307,0],[37.6,0.306,0],[38.7,0.304,0],[39.8,0.302,0],[40.8,0.300,0.026],[41.9,0.299,0.030],[42.9,0.296,0.026],[44.0,0.294,0],[45.1,0.292,0],[46.1,0.289,0],[47.2,0.286,0],[48.3,0.283,0],[49.3,0.280,0.012],[50.4,0.280,0],[53.9,0.285,0],[54.6,0.312,0],[56.2,0.313,0],[57.1,0.310,0],[57.8,0.332,0],[58.9,0.333,0.025],[59.9,0.319,0],[61.0,0.325,0],[62.4,0.311,0.012],[63.1,0.306,0],[63.8,0.323,0],[65.2,0.307,0.007],[67.3,0.295,0],[68.7,0.302,0],[69.8,0.300,0],[71.0,0.295,0],[71.6,0.333,0],[74.1,0.322,0],[75.2,0.316,0],[75.9,0.308,0],[77.3,0.314,0],[78.7,0.316,0],[79.9,0.306,0],[81.0,0.302,0],[82.0,0.300,0],[83.1,0.297,0],[84.0,0.292,0],[85.2,0.306,0],[86.3,0.307,0],[87.3,0.302,0],[88.4,0.299,0],[89.5,0.296,0],[90.5,0.294,0],[91.1,0.291,0],[92.1,0.299,0],[93.2,0.307,0],[93.7,0.310,0],[94.8,0.313,0],[96.0,0.320,0],[96.9,0.336,0],[98.2,0.335,0],[99.2,0.330,0],[100.1,0.325,0.020],[101.1,0.334,0],[102.0,0.338,0],[103.0,0.327,0],[104.3,0.338,0],[105.4,0.336,0],[106.4,0.339,0],[107.3,0.332,0],[108.6,0.324,0],[109.6,0.321,0],[110.7,0.314,0],[111.7,0.308,0],[113.0,0.325,0.009],[114.1,0.325,0],[115.1,0.321,0],[116.2,0.319,0],[117.3,0.316,0],[118.3,0.313,0],[119.4,0.311,0],[120.2,0.308,0],[121.8,0.307,0],[122.9,0.306,0],[123.9,0.319,0],[125.0,0.312,0],[126.1,0.307,0],[127.1,0.319,0],[128.2,0.312,0],[129.2,0.307,0]];

const COLORS = { calibrated: "#2230f0", direct: "#ffc000", combined: "#1fb04e", obsFill: "#d9d9d9", obsStroke: "#1e1e1e", err: "#808080", axis: "#7f7f7f", text: "#111111" };

const panels = [
  { left: 94, top: 23, width: 478, height: 273, yMin: 0.15, yMax: 0.45, xLabels: labels2014, calibrated: p1Calibrated, direct: p1Direct, combined: p1Combined, obs: p1Obs, yTitleOn: true, xTitleOn: false },
  { left: 668, top: 23, width: 471, height: 273, yMin: 0.15, yMax: 0.45, xLabels: labels2015, calibrated: p2Calibrated, direct: p2Direct, combined: p2Combined, obs: p2Obs, yTitleOn: false, xTitleOn: false },
  { left: 94, top: 348, width: 478, height: 273, yMin: 0.2, yMax: 0.4, xLabels: labels2014, calibrated: p3Calibrated, direct: p3Direct, combined: p3Combined, obs: p3Obs, yTitleOn: true, xTitleOn: false },
  { left: 668, top: 348, width: 471, height: 273, yMin: 0.2, yMax: 0.4, xLabels: labels2015, calibrated: p4Calibrated, direct: p4Direct, combined: p4Combined, obs: p4Obs, yTitleOn: false, xTitleOn: false },
  { left: 94, top: 672, width: 478, height: 272, yMin: 0.2, yMax: 0.4, xLabels: labels2014, calibrated: p5Calibrated, direct: p5Direct, combined: p5Combined, obs: p5Obs, yTitleOn: true, xTitleOn: true },
  { left: 668, top: 672, width: 471, height: 272, yMin: 0.2, yMax: 0.4, xLabels: labels2015, calibrated: p6Calibrated, direct: p6Direct, combined: p6Combined, obs: p6Obs, yTitleOn: false, xTitleOn: true },
];

function errorBarRender(params: any, api: any) {
  const x = api.value(0);
  const y = api.value(1);
  const e = api.value(2);
  if (!e) return { type: "group", children: [] };
  const top = api.coord([x, y + e]);
  const bot = api.coord([x, y - e]);
  const cap = 3;
  const st = { stroke: COLORS.err, lineWidth: 1.2 };
  return {
    type: "group",
    children: [
      { type: "line", shape: { x1: top[0], y1: top[1], x2: bot[0], y2: bot[1] }, style: st },
      { type: "line", shape: { x1: top[0] - cap, y1: top[1], x2: top[0] + cap, y2: top[1] }, style: st },
      { type: "line", shape: { x1: bot[0] - cap, y1: bot[1], x2: bot[0] + cap, y2: bot[1] }, style: st },
    ],
  };
}

export default function App() {
  const ref = useRef<HTMLDivElement>(null);
  useEffect(() => {
    document.body.style.margin = "0";
    const chart = echarts.init(ref.current as HTMLDivElement, undefined, { renderer: "svg" });
    const grid: any[] = [];
    const xAxis: any[] = [];
    const yAxis: any[] = [];
    const series: any[] = [];
    panels.forEach((p, i) => {
      grid.push({ left: p.left, top: p.top, width: p.width, height: p.height, containLabel: false });
      xAxis.push({
        type: "value", gridIndex: i, min: 0, max: 150, interval: 30,
        name: p.xTitleOn ? xTitle : "", nameLocation: "middle", nameGap: 49,
        nameTextStyle: { fontFamily: FONT, fontWeight: "bold", fontSize: 14, color: COLORS.text },
        axisLine: { show: true, lineStyle: { color: COLORS.axis, width: 1 } },
        axisTick: { show: true, length: 6, lineStyle: { color: COLORS.axis } },
        splitLine: { show: false },
        axisLabel: { formatter: (v: number) => p.xLabels[Math.round(v / 30)] ?? "", fontFamily: FONT, fontWeight: "bold", fontSize: 13, color: COLORS.text, margin: 19 },
      });
      yAxis.push({
        type: "value", gridIndex: i, min: p.yMin, max: p.yMax, interval: 0.05,
        name: p.yTitleOn ? yTitle : "", nameLocation: "middle", nameGap: 50, nameRotate: 90,
        nameTextStyle: { fontFamily: FONT, fontWeight: "bold", fontSize: 12, color: COLORS.text },
        axisLine: { show: true, lineStyle: { color: COLORS.axis, width: 1 } },
        axisTick: { show: true, inside: true, length: 6, lineStyle: { color: COLORS.axis } },
        splitLine: { show: false },
        axisLabel: { formatter: (v: number) => v.toFixed(2), fontFamily: FONT, fontWeight: "bold", fontSize: 13, color: COLORS.text, margin: 10 },
      });
      const lineBase = { type: "line", xAxisIndex: i, yAxisIndex: i, showSymbol: false, symbol: "none", silent: true };
      series.push({ ...lineBase, name: legendNames[1], data: p.calibrated, z: 2, lineStyle: { color: COLORS.calibrated, width: 2.5 } });
      series.push({ ...lineBase, name: legendNames[2], data: p.direct, z: 3, lineStyle: { color: COLORS.direct, width: 2.5 } });
      series.push({ ...lineBase, name: legendNames[3], data: p.combined, z: 4, lineStyle: { color: COLORS.combined, width: 2.5 } });
      series.push({ type: "custom", xAxisIndex: i, yAxisIndex: i, data: p.obs, encode: { x: 0, y: 1 }, renderItem: errorBarRender, z: 5, silent: true });
      series.push({
        type: "scatter", name: legendNames[0], xAxisIndex: i, yAxisIndex: i, data: p.obs, symbol: "circle", symbolSize: 11, z: 6, silent: true,
        itemStyle: { color: COLORS.obsFill, borderColor: COLORS.obsStroke, borderWidth: 1.2, opacity: 1 },
      });
    });

    const legendFont = { fontFamily: FONT, fontWeight: "bold", fontSize: 13.4, fill: COLORS.text };
    const graphic = [
      { type: "circle", shape: { cx: 905, cy: 845, r: 5.5 }, style: { fill: COLORS.obsFill, stroke: COLORS.obsStroke, lineWidth: 1.2 }, z: 10 },
      { type: "text", x: 928, y: 845, style: { text: legendNames[0], ...legendFont, verticalAlign: "middle", textVerticalAlign: "middle" }, z: 10 },
      { type: "line", shape: { x1: 888, y1: 871, x2: 923, y2: 871 }, style: { stroke: COLORS.calibrated, lineWidth: 2.5 }, z: 10 },
      { type: "text", x: 928, y: 869, style: { text: legendNames[1], ...legendFont, verticalAlign: "middle", textVerticalAlign: "middle" }, z: 10 },
      { type: "line", shape: { x1: 888, y1: 895, x2: 923, y2: 895 }, style: { stroke: COLORS.direct, lineWidth: 2.5 }, z: 10 },
      { type: "text", x: 928, y: 893, style: { text: legendNames[2], ...legendFont, verticalAlign: "middle", textVerticalAlign: "middle" }, z: 10 },
      { type: "line", shape: { x1: 888, y1: 919, x2: 923, y2: 919 }, style: { stroke: COLORS.combined, lineWidth: 2.5 }, z: 10 },
      { type: "text", x: 928, y: 917, style: { text: legendNames[3], ...legendFont, verticalAlign: "middle", textVerticalAlign: "middle" }, z: 10 },
    ];

    chart.setOption({ animation: false, backgroundColor: "#ffffff", grid, xAxis, yAxis, series, graphic });
    return () => chart.dispose();
  }, []);
  return <div ref={ref} style={{ width: 1180, height: 1012 }} />;
}
